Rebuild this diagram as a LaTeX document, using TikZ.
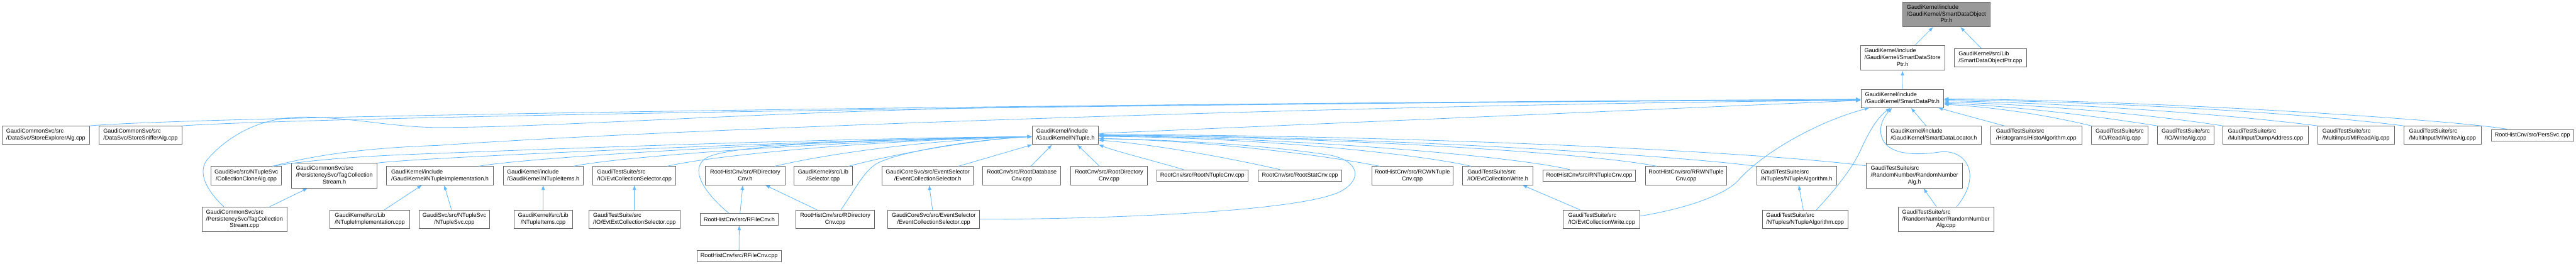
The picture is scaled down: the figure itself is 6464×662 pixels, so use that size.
\documentclass[tikz,border=0pt]{standalone}
\usepackage{fontspec}
\setmainfont{Liberation Sans}
\usetikzlibrary{arrows.meta}
\definecolor{edgeblue}{HTML}{63B8FF}
\definecolor{nodeborder}{HTML}{666666}
\definecolor{topfill}{HTML}{999999}
\newcommand{\oneL}[1]{#1}
\newcommand{\twoL}[2]{\begin{tabular}{@{}l@{}}#1\\\multicolumn{1}{@{}c@{}}{#2}\end{tabular}}
\newcommand{\threeL}[3]{\begin{tabular}{@{}l@{}}#1\\#2\\\multicolumn{1}{@{}c@{}}{#3}\end{tabular}}
\begin{document}
\begin{tikzpicture}[x=1pt,y=-1pt,
  box/.style={draw=nodeborder,fill=white,line width=1.4pt,inner sep=0pt,
    font=\fontsize{14.4}{17.3}\selectfont,anchor=center,minimum height=46},
  oneline/.style={minimum height=29},
  threeline/.style={minimum height=62},
  edge/.style={draw=edgeblue,line width=1.3pt,-{Latex[length=12pt,width=9pt]}}]
\fill[white] (0,0) rectangle (6464,662);
\useasboundingbox (0,0) rectangle (6464,662);
% ---------- nodes ----------
\node[box,threeline,fill=topfill,minimum width=220] (top) at (4884,36) {\threeL{GaudiKernel/include}{/GaudiKernel/SmartDataObject}{Ptr.h}};
\node[box,threeline,minimum width=212] (sdsp) at (4774,145.5) {\threeL{GaudiKernel/include}{/GaudiKernel/SmartDataStore}{Ptr.h}};
\node[box,minimum width=181] (sdopcpp) at (4994.5,145.5) {\twoL{GaudiKernel/src/Lib}{/SmartDataObjectPtr.cpp}};
\node[box,minimum width=207] (sdp) at (4773.5,247) {\twoL{GaudiKernel/include}{/GaudiKernel/SmartDataPtr.h}};
% row 3
\node[box,minimum width=219] (sea) at (115,339.5) {\twoL{GaudiCommonSvc/src}{/DataSvc/StoreExplorerAlg.cpp}};
\node[box,minimum width=207] (ssa) at (352.5,339.5) {\twoL{GaudiCommonSvc/src}{/DataSvc/StoreSnifferAlg.cpp}};
\node[box,minimum width=165] (ntuple) at (2673.5,339.5) {\twoL{GaudiKernel/include}{/GaudiKernel/NTuple.h}};
\node[box,minimum width=237] (sdl) at (4852.5,339.5) {\twoL{GaudiKernel/include}{/GaudiKernel/SmartDataLocator.h}};
\node[box,minimum width=229] (histo) at (5109.5,339.5) {\twoL{GaudiTestSuite/src}{/Histograms/HistoAlgorithm.cpp}};
\node[box,minimum width=142] (read) at (5319,339.5) {\twoL{GaudiTestSuite/src}{/IO/ReadAlg.cpp}};
\node[box,minimum width=142] (write) at (5484.5,339.5) {\twoL{GaudiTestSuite/src}{/IO/WriteAlg.cpp}};
\node[box,minimum width=214] (dump) at (5685,339.5) {\twoL{GaudiTestSuite/src}{/MultiInput/DumpAddress.cpp}};
\node[box,minimum width=192] (miread) at (5912,339.5) {\twoL{GaudiTestSuite/src}{/MultiInput/MIReadAlg.cpp}};
\node[box,minimum width=194] (miwrite) at (6129,339.5) {\twoL{GaudiTestSuite/src}{/MultiInput/MIWriteAlg.cpp}};
\node[box,oneline,minimum width=207] (pers) at (6354.5,339.5) {\oneL{RootHistCnv/src/PersSvc.cpp}};
% row 4
\node[box,minimum width=176] (ccl) at (618,441) {\twoL{GaudiSvc/src/NTupleSvc}{/CollectionCloneAlg.cpp}};
\node[box,threeline,minimum width=214] (tcsh) at (839,441) {\threeL{GaudiCommonSvc/src}{/PersistencySvc/TagCollection}{Stream.h}};
\node[box,minimum width=268] (nih) at (1104,441) {\twoL{GaudiKernel/include}{/GaudiKernel/NTupleImplementation.h}};
\node[box,minimum width=201] (nitemsh) at (1363,441) {\twoL{GaudiKernel/include}{/GaudiKernel/NTupleItems.h}};
\node[box,minimum width=208] (ecs) at (1592,441) {\twoL{GaudiTestSuite/src}{/IO/EvtCollectionSelector.cpp}};
\node[box,minimum width=199] (rdch) at (1870,441) {\twoL{RootHistCnv/src/RDirectory}{Cnv.h}};
\node[box,minimum width=147] (sel) at (2065.5,441) {\twoL{GaudiKernel/src/Lib}{/Selector.cpp}};
\node[box,minimum width=229] (ecsh) at (2328,441) {\twoL{GaudiCoreSvc/src/EventSelector}{/EventCollectionSelector.h}};
\node[box,minimum width=196] (rdbc) at (2564,441) {\twoL{RootCnv/src/RootDatabase}{Cnv.cpp}};
\node[box,minimum width=193] (rdirc) at (2783,441) {\twoL{RootCnv/src/RootDirectory}{Cnv.cpp}};
\node[box,oneline,minimum width=228] (rntc) at (3017,441) {\oneL{RootCnv/src/RootNTupleCnv.cpp}};
\node[box,oneline,minimum width=210] (rstat) at (3262,441) {\oneL{RootCnv/src/RootStatCnv.cpp}};
\node[box,minimum width=204] (rcwn) at (3544,441) {\twoL{RootHistCnv/src/RCWNTuple}{Cnv.cpp}};
\node[box,minimum width=176] (ecwh) at (3758.5,441) {\twoL{GaudiTestSuite/src}{/IO/EvtCollectionWrite.h}};
\node[box,oneline,minimum width=233] (rnt) at (3988,441) {\oneL{RootHistCnv/src/RNTupleCnv.cpp}};
\node[box,minimum width=204] (rrwn) at (4231,441) {\twoL{RootHistCnv/src/RRWNTuple}{Cnv.cpp}};
\node[box,minimum width=200] (ntah) at (4508,441) {\twoL{GaudiTestSuite/src}{/NTuples/NTupleAlgorithm.h}};
\node[box,threeline,minimum width=242] (rnah) at (4804,441) {\threeL{GaudiTestSuite/src}{/RandomNumber/RandomNumber}{Alg.h}};
% row 5
\node[box,threeline,minimum width=214] (tcscpp) at (613.5,550.5) {\threeL{GaudiCommonSvc/src}{/PersistencySvc/TagCollection}{Stream.cpp}};
\node[box,minimum width=200] (nicpp) at (928,550.5) {\twoL{GaudiKernel/src/Lib}{/NTupleImplementation.cpp}};
\node[box,minimum width=176] (ntsvc) at (1140,550.5) {\twoL{GaudiSvc/src/NTupleSvc}{/NTupleSvc.cpp}};
\node[box,minimum width=147] (nitemscpp) at (1363,550.5) {\twoL{GaudiKernel/src/Lib}{/NTupleItems.cpp}};
\node[box,minimum width=229] (eecs) at (1592,550.5) {\twoL{GaudiTestSuite/src}{/IO/EvtExtCollectionSelector.cpp}};
\node[box,oneline,minimum width=197] (rfch) at (1855,550.5) {\oneL{RootHistCnv/src/RFileCnv.h}};
\node[box,minimum width=198] (rdccpp) at (2096,550.5) {\twoL{RootHistCnv/src/RDirectory}{Cnv.cpp}};
\node[box,minimum width=230] (ecscpp) at (2343,550.5) {\twoL{GaudiCoreSvc/src/EventSelector}{/EventCollectionSelector.cpp}};
\node[box,minimum width=192] (ecwcpp) at (4019,550.5) {\twoL{GaudiTestSuite/src}{/IO/EvtCollectionWrite.cpp}};
\node[box,minimum width=215] (ntacpp) at (4529.5,550.5) {\twoL{GaudiTestSuite/src}{/NTuples/NTupleAlgorithm.cpp}};
\node[box,threeline,minimum width=240] (rnacpp) at (4883,550.5) {\threeL{GaudiTestSuite/src}{/RandomNumber/RandomNumber}{Alg.cpp}};
% row 6
\node[box,oneline,minimum width=212] (rfccpp) at (1854.5,643) {\oneL{RootHistCnv/src/RFileCnv.cpp}};
% ---------- edges ----------
\draw[edge] ([xshift=31]sdsp.north) -- ([xshift=-33]top.south);
\draw[edge] ([xshift=-22.5]sdopcpp.north) -- ([xshift=35]top.south);
\draw[edge] (sdp.north) -- (sdsp.south);
\draw[edge] ([xshift=-19.5]sdl.north) -- ([xshift=21.5]sdp.south);
\draw[edge] ([xshift=-80.5]histo.north) -- ([xshift=89.5]sdp.south);
\draw[edge] (read.north west) .. controls (5120,285) and (4990,268) .. ([yshift=-15]sdp.east);
\draw[edge] (write.north west) .. controls (5250,290) and (5050,266) .. ([yshift=-12]sdp.east);
\draw[edge] (dump.north west) .. controls (5380,285) and (5100,262) .. ([yshift=-9]sdp.east);
\draw[edge] (miread.north west) .. controls (5550,282) and (5150,258) .. ([yshift=-6]sdp.east);
\draw[edge] (miwrite.north west) .. controls (5750,280) and (5250,255) .. ([yshift=-3]sdp.east);
\draw[edge] ([xshift=-63.5]pers.north) .. controls (6150,300) and (5400,252) .. ([yshift=-1]sdp.east);
% long edges from the left to SmartDataPtr.h
\draw[edge] (sea.north east) .. controls (500,292) and (2500,262) .. ([yshift=-2]sdp.west);
\draw[edge] (ssa.north east) .. controls (750,296) and (2500,263) .. ([yshift=-3]sdp.west);
\draw[edge] ([xshift=-52]tcscpp.north) .. controls (520,480) and (490,430) .. (525,395)
   .. controls (580,335) and (660,294) .. (760,294)
   .. controls (880,294) and (990,320) .. (1100,320)
   .. controls (1400,320) and (1900,280) .. (2600,268)
   .. controls (3400,258) and (4300,252) .. ([yshift=-4]sdp.west);
\draw[edge] ([xshift=66]ccl.north) .. controls (780,392) and (900,372) .. (1100,365)
   .. controls (1700,322) and (3500,260) .. ([yshift=-5]sdp.west);
\draw[edge] ([yshift=4.5]ntuple.east) -- ([yshift=-5]sdp.west);
% from below to SmartDataPtr.h
\draw[edge] ([yshift=8]ecwcpp.east) .. controls (4250,520) and (4330,485) .. (4360,455)
   .. controls (4420,385) and (4560,305) .. ([xshift=-82.5]sdp.south);
\draw[edge] ([xshift=28.5]ntacpp.north) .. controls (4620,460) and (4655,410) .. (4672,370)
   .. controls (4695,320) and (4715,292) .. ([xshift=-29.5]sdp.south);
\draw[edge] ([xshift=27]rnacpp.north) .. controls (4975,440) and (4935,372) .. (4865,382)
   .. controls (4795,392) and (4735,385) .. (4722,345)
   .. controls (4712,315) and (4730,290) .. ([xshift=-25.5]sdp.south);
% into NTuple.h from the left
\draw[edge] ([xshift=66]ccl.north) .. controls (800,398) and (950,390) .. (1100,385)
   .. controls (1600,365) and (2200,346) .. ([yshift=-3.5]ntuple.west);
\draw[edge] (tcsh.north east) .. controls (1050,395) and (2100,350) .. ([yshift=-3.5]ntuple.west);
\draw[edge] ([xshift=97]nih.north) .. controls (1320,396) and (2000,353) .. ([yshift=-3.5]ntuple.west);
\draw[edge] ([xshift=76]nitemsh.north) .. controls (1560,392) and (2100,354) .. ([yshift=-3.5]ntuple.west);
\draw[edge] ([xshift=82]ecs.north) .. controls (1800,388) and (2200,352) .. ([yshift=-3.5]ntuple.west);
\draw[edge] ([xshift=-26]rfch.north) .. controls (1780,495) and (1725,430) .. (1770,398)
   .. controls (1810,370) and (2050,352) .. ([yshift=-3.5]ntuple.west);
\draw[edge] ([xshift=74]rdch.north) .. controls (2060,390) and (2300,352) .. ([yshift=-3.5]ntuple.west);
\draw[edge] ([xshift=64]sel.north) .. controls (2250,385) and (2450,350) .. ([yshift=-3.5]ntuple.west);
\draw[edge] ([xshift=14]rdccpp.north) .. controls (2150,470) and (2170,425) .. (2205,408)
   .. controls (2270,378) and (2450,350) .. ([yshift=-3.5]ntuple.west);
% into NTuple.h from below
\draw[edge] ([xshift=77]ecsh.north) -- (ntuple.south west);
\draw[edge] ([xshift=23]rdbc.north) -- ([xshift=-33.5]ntuple.south);
\draw[edge] ([xshift=-24]rdirc.north) -- ([xshift=29.5]ntuple.south);
\draw[edge] ([xshift=-47]rntc.north) .. controls (2900,405) and (2800,380) .. (ntuple.south east);
% into NTuple.h from the right
\draw[edge] ([xshift=-50]rstat.north) .. controls (3100,400) and (2900,362) .. ([yshift=-12.5]ntuple.east);
\draw[edge] ([xshift=-82]rcwn.north) .. controls (3300,385) and (3000,352) .. ([yshift=-8.5]ntuple.east);
\draw[edge] ([xshift=-67]ecwh.north) .. controls (3550,385) and (3150,345) .. ([yshift=-3]ntuple.east);
\draw[edge] ([xshift=-49]rnt.north) .. controls (3800,392) and (3250,345) .. ([yshift=-1.5]ntuple.east);
\draw[edge] ([xshift=-74]rrwn.north) .. controls (4000,385) and (3350,343) .. ([yshift=-0.5]ntuple.east);
\draw[edge] (ntah.north west) .. controls (4200,390) and (3450,342) .. ([yshift=0.5]ntuple.east);
\draw[edge] ([yshift=-7]rnah.north west) .. controls (4400,380) and (3550,340) .. ([yshift=2]ntuple.east);
\draw[edge] (ecscpp.east) .. controls (2800,550) and (3270,530) .. (3365,480)
   .. controls (3420,450) and (3410,405) .. (3340,390)
   .. controls (3150,360) and (2900,350) .. ([yshift=-8.5]ntuple.east);
% short vertical edges
\draw[edge] ([xshift=63.5]tcscpp.north) -- ([xshift=-67]tcsh.south);
\draw[edge] ([xshift=36.5]nicpp.north) -- ([xshift=-45]nih.south);
\draw[edge] ([xshift=-7]ntsvc.north) -- ([xshift=10.5]nih.south);
\draw[edge] (nitemscpp.north) -- (nitemsh.south);
\draw[edge] (eecs.north) -- (ecs.south);
\draw[edge] ([xshift=2]rfch.north) -- ([xshift=-6]rdch.south);
\draw[edge] ([xshift=-46]rdccpp.north) -- ([xshift=50]rdch.south);
\draw[edge] (rfccpp.north) -- (rfch.south);
\draw[edge] ([xshift=-3]ecscpp.north) -- ([xshift=3.5]ecsh.south);
\draw[edge] ([xshift=-54]ecwcpp.north) -- ([xshift=61.5]ecwh.south);
\draw[edge] ([xshift=-4.5]ntacpp.north) -- ([xshift=5.5]ntah.south);
\draw[edge] ([xshift=-24]rnacpp.north) -- ([xshift=22.5]rnah.south);
\end{tikzpicture}
\end{document}
